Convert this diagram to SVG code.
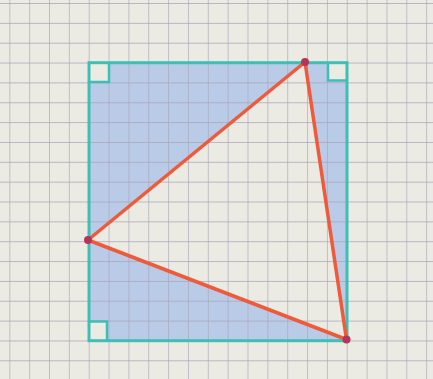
<svg xmlns="http://www.w3.org/2000/svg" width="433" height="379" viewBox="0 0 433 379">
  <defs>
    <pattern id="grid" patternUnits="userSpaceOnUse" x="9.3" y="3" width="19.85" height="19.85">
      <path d="M0,0 H19.85 M0,0 V19.85" fill="none" stroke="#a6a5b9" stroke-width="1.3"/>
    </pattern>
  </defs>
  <style>
    .paper { fill: #ecebe3; }
    .shade { fill: #6a98f2; fill-opacity: 0.38; fill-rule: evenodd; }
    .teal { fill: none; stroke: #3ebfb5; stroke-width: 3; stroke-linejoin: miter; }
    .mark { fill: none; stroke: #3ebfb5; stroke-width: 2.5; }
    .edge { stroke: #ee5a3a; stroke-width: 3.5; stroke-linecap: round; fill: none; }
    .vertex { fill: #b5345a; }
  </style>
  <rect class="paper" x="0" y="0" width="433" height="379"/>
  <path class="shade" d="M89,62.7 H347 V340.7 H89 Z M305,62 L88,240 L346.5,339.5 Z M89,62.7 H109 V82 H89 Z M328,62.7 H347 V80.5 H328 Z M89,321.5 H107 V340.7 H89 Z"/>
  <rect x="0" y="0" width="433" height="379" fill="url(#grid)"/>
  <g id="square">
    <rect class="teal" x="89" y="62.7" width="258" height="278"/>
  </g>
  <g id="right-angle-top-left">
    <path class="mark" d="M89,82 H109 V62.7"/>
  </g>
  <g id="right-angle-top-right">
    <path class="mark" d="M328,62.7 V80.5 H347"/>
  </g>
  <g id="right-angle-bottom-left">
    <path class="mark" d="M89,321.5 H107 V340.7"/>
  </g>
  <g id="connectors">
    <line class="edge" x1="305" y1="62" x2="88" y2="240"/>
    <line class="edge" x1="88" y1="240" x2="346.5" y2="339.5"/>
    <line class="edge" x1="305" y1="62" x2="346.5" y2="339.5"/>
  </g>
  <g id="vertex-top">
    <circle class="vertex" cx="305" cy="62" r="4"/>
  </g>
  <g id="vertex-left">
    <circle class="vertex" cx="88" cy="240" r="4"/>
  </g>
  <g id="vertex-bottom-right">
    <circle class="vertex" cx="346.5" cy="339.5" r="4"/>
  </g>
</svg>
